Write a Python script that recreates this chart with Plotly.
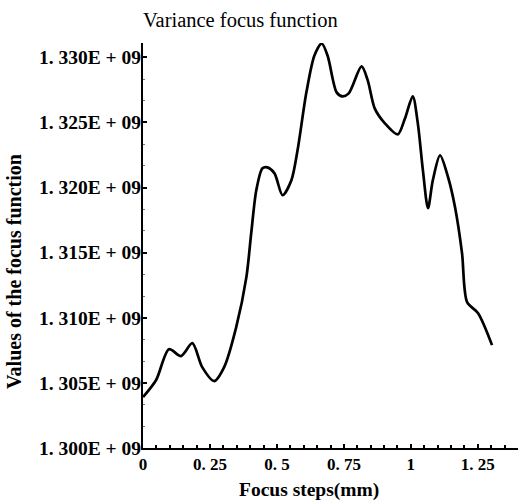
import plotly.graph_objects as go

# Focus steps (mm) and variance focus-function values
focus_steps = [0.000, 0.049, 0.097, 0.142, 0.184, 0.221, 0.266, 0.303, 0.348, 0.386,
               0.404, 0.423, 0.446, 0.464, 0.491, 0.521, 0.554, 0.577, 0.610, 0.640,
               0.667, 0.689, 0.723, 0.745, 0.768, 0.816, 0.839, 0.865, 0.903, 0.951,
               0.978, 1.007, 1.026, 1.045, 1.064, 1.082, 1.109, 1.139, 1.165, 1.191,
               1.210, 1.251, 1.303]
focus_values = [1.30391e9, 1.30522e9, 1.30759e9, 1.30706e9, 1.30805e9, 1.30621e9, 1.30514e9,
                1.30621e9, 1.30928e9, 1.31312e9, 1.31649e9, 1.31979e9, 1.32148e9, 1.32155e9,
                1.32109e9, 1.31941e9, 1.32056e9, 1.32286e9, 1.32731e9, 1.33014e9, 1.33106e9,
                1.33014e9, 1.32731e9, 1.32700e9, 1.32723e9, 1.32930e9, 1.32823e9, 1.32608e9,
                1.32493e9, 1.32408e9, 1.32531e9, 1.32700e9, 1.32493e9, 1.32132e9, 1.31841e9,
                1.32056e9, 1.32247e9, 1.32079e9, 1.31848e9, 1.31496e9, 1.31120e9, 1.31035e9,
                1.30790e9]

x_tick_vals = [0, 0.25, 0.5, 0.75, 1, 1.25]
x_tick_text = ["0", "0. 25", "0. 5", "0. 75", "1", "1. 25"]
y_tick_vals = [1.300e9, 1.305e9, 1.310e9, 1.315e9, 1.320e9, 1.325e9, 1.330e9]
y_tick_text = ["1. 300E + 09", "1. 305E + 09", "1. 310E + 09", "1. 315E + 09",
               "1. 320E + 09", "1. 325E + 09", "1. 330E + 09"]

title_text = "Variance focus function"
x_title = "Focus steps(mm)"
y_title = "Values of the focus function"

SERIF = "Liberation Serif, Times New Roman, serif"

fig = go.Figure()
fig.add_trace(go.Scatter(
    x=focus_steps, y=focus_values, mode="lines",
    line=dict(color="black", width=2.7, shape="spline", smoothing=0.8),
    showlegend=False, hoverinfo="skip"))

fig.update_layout(
    width=519, height=502,
    margin=dict(l=143, r=1, t=43, b=54, autoexpand=False),
    paper_bgcolor="white", plot_bgcolor="white",
    font=dict(family=SERIF, color="black"),
    xaxis=dict(range=[0, 1.40], showgrid=False, zeroline=False, automargin=False,
               showline=True, linecolor="black", linewidth=2,
               tickmode="array", tickvals=x_tick_vals, ticktext=x_tick_text,
               ticks="inside", ticklen=4, tickwidth=1.5, tickcolor="black",
               tickfont=dict(family=SERIF, size=17, color="black", weight="bold"),
               minor=dict(dtick=0.05, tick0=0, ticks="inside", ticklen=3,
                          tickwidth=1.5, tickcolor="black")),
    yaxis=dict(range=[1.300e9, 1.3311e9], showgrid=False, zeroline=False, automargin=False,
               showline=True, linecolor="black", linewidth=2,
               tickmode="array", tickvals=y_tick_vals, ticktext=y_tick_text,
               ticks="inside", ticklen=4, tickwidth=1.5, tickcolor="black",
               ticklabelstandoff=-4,
               tickfont=dict(family=SERIF, size=19.5, color="black", weight="bold"),
               minor=dict(dtick=0.005e9 / 3, tick0=1.300e9, ticks="inside", ticklen=2,
                          tickwidth=1, tickcolor="#777777")),
)

fig.add_annotation(text=title_text, xref="paper", yref="paper",
                   x=-0.005, y=1.0568, xanchor="left", yanchor="middle", showarrow=False,
                   font=dict(family=SERIF, size=20.5, color="black"))
fig.add_annotation(text=x_title, xref="paper", yref="paper",
                   x=0.443, y=-0.1037, xanchor="center", yanchor="middle", showarrow=False,
                   font=dict(family=SERIF, size=19.5, color="black", weight="bold"))
fig.add_annotation(text=y_title, xref="paper", yref="paper", textangle=-90,
                   x=-0.344, y=0.4346, xanchor="center", yanchor="middle", showarrow=False,
                   font=dict(family=SERIF, size=20, color="black", weight="bold"))

# remove the default 8px page margin so the 519x502 figure fills the window exactly
fig.write_html("out.html", config={"displayModeBar": False},
               post_script="document.body.style.margin='0';")
